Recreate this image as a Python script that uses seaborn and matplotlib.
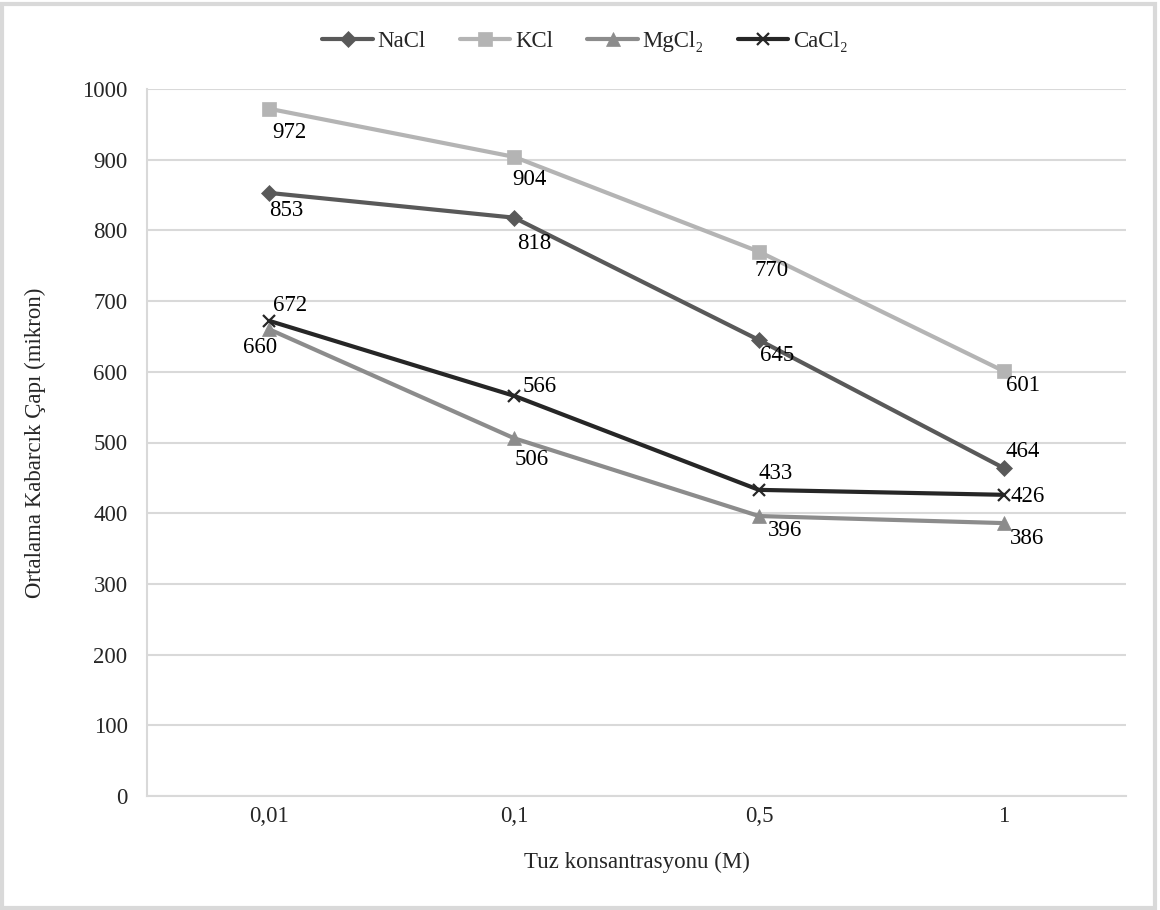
import matplotlib
matplotlib.use("Agg")
import matplotlib.pyplot as plt
import seaborn as sns
import pandas as pd
from matplotlib.patches import Rectangle

# ---- data ----
concentrations = ["0,01", "0,1", "0,5", "1"]
series_names = ["NaCl", "KCl", "MgCl₂", "CaCl₂"]
nacl = [853, 818, 645, 464]
kcl = [972, 904, 770, 601]
mgcl2 = [660, 506, 396, 386]
cacl2 = [672, 566, 433, 426]
y_ticks = [0, 100, 200, 300, 400, 500, 600, 700, 800, 900, 1000]

values = {"NaCl": nacl, "KCl": kcl, "MgCl₂": mgcl2, "CaCl₂": cacl2}

rows = []
for s in series_names:
    for i, v in enumerate(values[s]):
        rows.append({"x": i, "Konsantrasyon": concentrations[i], "Tuz": s, "y": v})
df = pd.DataFrame(rows)

# ---- styles ----
sns.set_theme(style="white")
plt.rcParams["font.family"] = ["Liberation Serif", "DejaVu Serif"]
FS = 16.5

palette = {"NaCl": "#595959", "KCl": "#b4b4b4", "MgCl₂": "#8c8c8c", "CaCl₂": "#262626"}
markers = {"NaCl": "D", "KCl": "s", "MgCl₂": "^", "CaCl₂": "x"}
msizes = {"NaCl": 8.5, "KCl": 9.5, "MgCl₂": 10, "CaCl₂": 9}

# label offsets in pixels (dx, dy up-positive)
offsets = {
    "NaCl": [(17, -18), (20, -26), (18, -16), (19, 16)],
    "KCl": [(20, -24), (15, -23), (13, -19), (19, -14)],
    "MgCl₂": [(-9, -18), (18, -21), (26, -14), (23, -15)],
    "CaCl₂": [(21, 15), (26, 9), (17, 16), (24, -2)],
}

fig = plt.figure(figsize=(11.6, 9.1), dpi=100)
ax = fig.add_axes([147 / 1160, 1 - 796 / 910, (1126 - 147) / 1160, (796 - 89) / 910])

for s in series_names:
    sub = df[df["Tuz"] == s]
    sns.lineplot(data=sub, x="x", y="y", ax=ax, color=palette[s], marker=markers[s],
                 markersize=msizes[s], linewidth=3.0, label=s,
                 markeredgecolor=palette[s], markeredgewidth=1.6 if s == "CaCl₂" else 0.5,
                 markerfacecolor=palette[s], zorder=3, errorbar=None)
    for (xx, yy), (dx, dy) in zip(zip(sub["x"], sub["y"]), offsets[s]):
        ax.annotate(f"{yy}", (xx, yy), xytext=(dx, dy), textcoords="offset pixels",
                    ha="center", va="center", fontsize=FS, color="black", zorder=5)

ax.set_xlim(-0.5, 3.5)
ax.set_ylim(0, 1000)
ax.set_yticks(y_ticks)
ax.set_yticklabels([str(t) for t in y_ticks], fontsize=FS)
ax.set_xticks(range(len(concentrations)))
ax.set_xticklabels(concentrations, fontsize=FS)
ax.tick_params(axis="y", length=0, pad=14)
ax.tick_params(axis="x", length=0, pad=7)
ax.grid(axis="y", color="#d9d9d9", linewidth=1.5)
ax.grid(axis="x", visible=False)
ax.set_axisbelow(True)
for side in ["top", "right"]:
    ax.spines[side].set_visible(False)
for side in ["left", "bottom"]:
    ax.spines[side].set_color("#d9d9d9")
    ax.spines[side].set_linewidth(1.5)

ax.set_xlabel("Tuz konsantrasyonu (M)", fontsize=FS, labelpad=18)
ax.set_ylabel("Ortalama Kabarcık Çapı (mikron)", fontsize=FS, labelpad=26)

handles, labels = ax.get_legend_handles_labels()
ax.legend_.remove()
fig.legend(handles, labels, loc="center", bbox_to_anchor=(585 / 1160, 1 - 41 / 910),
           ncol=4, frameon=False, fontsize=FS, handlelength=2.2, handletextpad=0.2,
           columnspacing=1.5)

fig.patches.append(Rectangle((0.002, 0.002), 0.994, 0.994, transform=fig.transFigure,
                             fill=False, edgecolor="#d9d9d9", linewidth=3))

fig.savefig("out.png", dpi=100)
